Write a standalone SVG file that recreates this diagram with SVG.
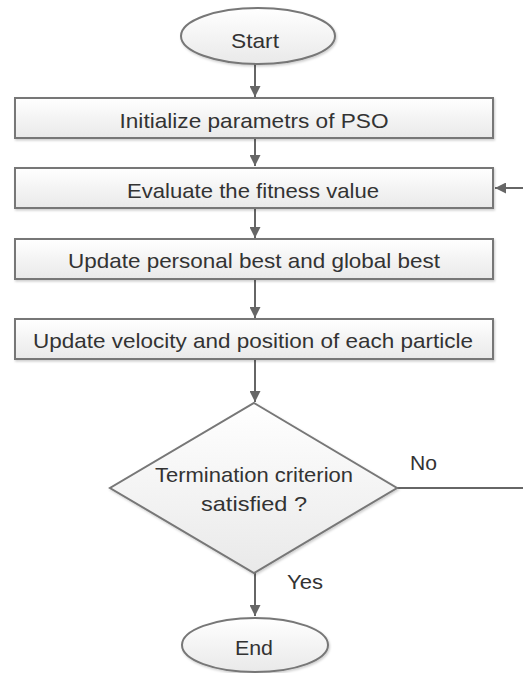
<svg xmlns="http://www.w3.org/2000/svg" width="523" height="673" viewBox="0 0 523 673">
<defs>
<linearGradient id="g" x1="0" y1="0" x2="0" y2="1">
<stop offset="0" stop-color="#ffffff"/>
<stop offset="1" stop-color="#e9e9e9"/>
</linearGradient>
<marker id="ah" viewBox="0 0 10 10" refX="10" refY="5" markerWidth="11" markerHeight="11" markerUnits="userSpaceOnUse" orient="auto">
<path d="M0,0 L10,5 L0,10 z" fill="#666"/>
</marker>
<filter id="sh" x="-10%" y="-10%" width="120%" height="130%">
<feDropShadow dx="1" dy="1.5" stdDeviation="1" flood-color="#000" flood-opacity="0.2"/>
</filter>
</defs>
<style>
.box{fill:url(#g);stroke:#777;stroke-width:2;filter:url(#sh)}
.t{font-family:"Liberation Sans",Arial,sans-serif;font-size:21px;fill:#333;text-anchor:middle}
.l{font-family:"Liberation Sans",Arial,sans-serif;font-size:21px;fill:#333}
.c{stroke:#666;stroke-width:2;fill:none}
</style>
<g id="connectors">
<line class="c" x1="255" y1="64" x2="255" y2="97" marker-end="url(#ah)"/>
<line class="c" x1="255" y1="138" x2="255" y2="166" marker-end="url(#ah)"/>
<line class="c" x1="255" y1="208" x2="255" y2="238" marker-end="url(#ah)"/>
<line class="c" x1="255" y1="279" x2="255" y2="318" marker-end="url(#ah)"/>
<line class="c" x1="255" y1="359" x2="255" y2="402" marker-end="url(#ah)"/>
<line class="c" x1="255" y1="573" x2="255" y2="616" marker-end="url(#ah)"/>
<line class="c" x1="397" y1="488" x2="523" y2="488"/>
<line class="c" x1="523" y1="188" x2="495" y2="188" marker-end="url(#ah)"/>
<text class="l" x="410" y="470" textLength="27" lengthAdjust="spacingAndGlyphs">No</text>
<text class="l" x="287" y="589" textLength="36" lengthAdjust="spacingAndGlyphs">Yes</text>
</g>
<g id="start">
<ellipse class="box" cx="258" cy="36" rx="77" ry="28"/>
<text class="t" x="255" y="48" textLength="48" lengthAdjust="spacingAndGlyphs">Start</text>
</g>
<g id="init">
<rect class="box" x="15" y="98" width="478" height="40"/>
<text class="t" x="254" y="128" textLength="269" lengthAdjust="spacingAndGlyphs">Initialize parametrs of PSO</text>
</g>
<g id="evaluate">
<rect class="box" x="15" y="168" width="478" height="40"/>
<text class="t" x="253" y="198" textLength="252" lengthAdjust="spacingAndGlyphs">Evaluate the fitness value</text>
</g>
<g id="update-best">
<rect class="box" x="15" y="239" width="478" height="40"/>
<text class="t" x="254" y="268" textLength="372" lengthAdjust="spacingAndGlyphs">Update personal best and global best</text>
</g>
<g id="update-velocity">
<rect class="box" x="15" y="319" width="478" height="40"/>
<text class="t" x="253" y="348" textLength="440" lengthAdjust="spacingAndGlyphs">Update velocity and position of each particle</text>
</g>
<g id="decision">
<polygon class="box" points="254,403 397,488 254,573 110,488"/>
<text class="t" x="254" y="482" textLength="198" lengthAdjust="spacingAndGlyphs">Termination criterion</text>
<text class="t" x="254" y="511" textLength="106" lengthAdjust="spacingAndGlyphs">satisfied ?</text>
</g>
<g id="end">
<ellipse class="box" cx="255" cy="645" rx="73" ry="27"/>
<text class="t" x="254" y="655" textLength="38" lengthAdjust="spacingAndGlyphs">End</text>
</g>
</svg>
